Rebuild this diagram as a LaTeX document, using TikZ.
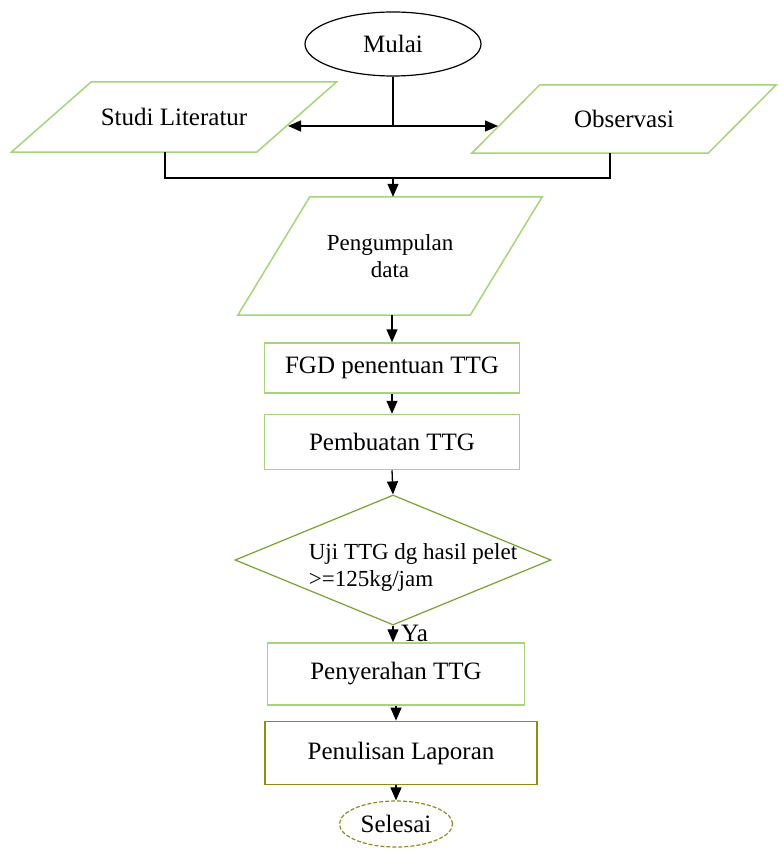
\documentclass[tikz,border=0pt]{standalone}
\usepackage{fontspec}
\setmainfont{Liberation Serif}
\usetikzlibrary{shapes.geometric,arrows.meta}
\definecolor{boxgreen}{RGB}{165,212,125}
\definecolor{diagreen}{RGB}{120,160,50}
\definecolor{olivebox}{RGB}{140,140,30}

\tikzset{
  flowtext/.style={font=\fontsize{25}{27}\selectfont, inner sep=0pt},
  smalltext/.style={font=\fontsize{23}{27}\selectfont, inner sep=0pt},
  procbox/.style={flowtext, draw=boxgreen, line width=1.5pt, minimum width=255pt},
  iobox/.style={flowtext},
  flowline/.style={line width=1.3pt},
  flowarrow/.style={line width=1.3pt, -{Triangle[length=13pt,width=11pt]}}
}

\begin{document}
\begin{tikzpicture}[x=1pt,y=-1pt]
  \useasboundingbox (0,0) rectangle (778,850);

  % start
  \node[flowtext, ellipse, draw, line width=1.2pt, minimum width=176pt, minimum height=64pt] (mulai) at (393,44) {Mulai};

  % input blocks
  \node[iobox, minimum width=245pt, minimum height=70pt] (studi) at (174,117) {Studi Literatur};
  \draw[boxgreen, line width=1.5pt] ([xshift=40pt]studi.north west) -- ([xshift=40pt]studi.north east)
    -- ([xshift=-40pt]studi.south east) -- ([xshift=-40pt]studi.south west) -- cycle;
  \node[iobox, minimum width=236pt, minimum height=68pt] (obs) at (624,119) {Observasi};
  \draw[boxgreen, line width=1.5pt] ([xshift=34pt]obs.north west) -- ([xshift=34pt]obs.north east)
    -- ([xshift=-34pt]obs.south east) -- ([xshift=-34pt]obs.south west) -- cycle;
  \node[iobox, smalltext, align=center, minimum width=232pt, minimum height=118pt] (data) at (390,256) {Pengumpulan\\data};
  \draw[boxgreen, line width=1.5pt] ([xshift=36pt]data.north west) -- ([xshift=36pt]data.north east)
    -- ([xshift=-36pt]data.south east) -- ([xshift=-36pt]data.south west) -- cycle;

  % process blocks
  \node[procbox, minimum height=50pt] (fgd) at (392,368) {FGD penentuan TTG};
  \node[procbox, minimum height=55pt] (buat) at (392,442) {Pembuatan TTG};
  \node[diamond, draw=diagreen, line width=1.2pt, minimum width=316pt, minimum height=130pt, inner sep=0pt] (uji) at (393,560) {};
  \node[smalltext, align=left] (ujitext) at (413,567) {Uji TTG dg hasil pelet\\>=125kg/jam};
  \node[procbox, minimum width=257pt, minimum height=62pt] (serah) at (396,674) {Penyerahan TTG};
  \node[procbox, draw=olivebox, line width=1.8pt, minimum width=272pt, minimum height=63pt] (tulis) at (401,753) {Penulisan Laporan};

  % end
  \node[flowtext, ellipse, draw=olivebox, line width=1.2pt, dash pattern=on 4pt off 2pt, minimum width=113pt, minimum height=46pt] (selesai) at (396,824) {Selesai};

  % connectors
  \coordinate (split) at (393,126);
  \coordinate (studiin) at (288,126);
  \coordinate (obsin) at (498,126);
  \coordinate (join) at (393,178);
  \draw[flowline] (mulai.south) -- (split);
  \draw[flowarrow] (split) -- (studiin);
  \draw[flowarrow] (split) -- (obsin);
  \draw[flowline] ([xshift=-9pt]studi.south) |- (join);
  \draw[flowline] (join) -| ([xshift=-14pt]obs.south);
  \draw[flowarrow] (join) -- (join |- data.north);
  \draw[flowarrow] (data.south -| fgd.north) -- (fgd.north);
  \draw[flowarrow] (fgd.south) -- (buat.north);
  \draw[flowarrow] (buat.south) -- (uji.north);
  \draw[flowarrow] (uji.south) -- (uji.south |- serah.north);
  \node[flowtext, anchor=west] (ya) at (401,633) {Ya};
  \draw[flowarrow] (serah.south) -- (serah.south |- tulis.north);
  \draw[flowarrow] (serah.south |- tulis.south) -- (selesai.north);
\end{tikzpicture}
\end{document}
